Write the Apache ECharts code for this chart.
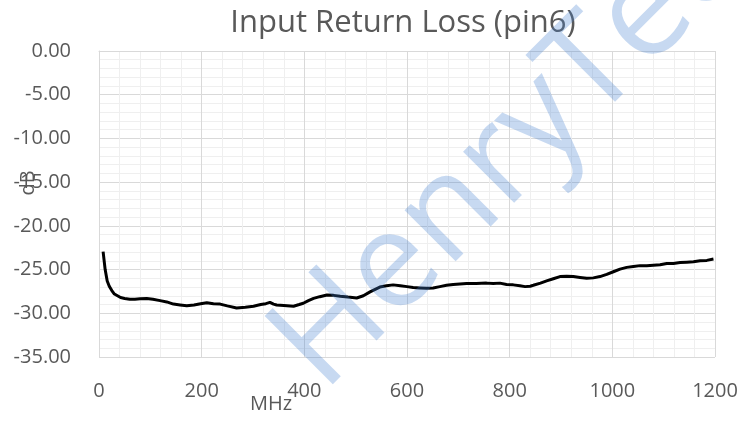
<!DOCTYPE html>
<html>
<head>
<meta charset="utf-8">
<style>
  html, body { margin: 0; padding: 0; background: #fff; }
  #chart { width: 739px; height: 421px; }
</style>
<script src="https://cdn.jsdelivr.net/npm/echarts@6/dist/echarts.min.js"></script>
</head>
<body>
<div id="chart"></div>
<script>
// 频率 (MHz)
const freqMHz = [8, 12, 16, 20, 25, 30, 36, 42, 50, 60, 70, 80, 93, 105, 119, 132, 145, 158, 171, 185,
  198, 210, 223, 236, 250, 268, 285, 301, 315, 325, 333, 340, 346, 360, 379, 390, 398, 408, 418, 430,
  444, 457, 470, 485, 502, 515, 528, 540, 547, 560, 573, 587, 600, 612, 625, 638, 651, 664, 677, 690,
  703, 716, 735, 755, 768, 781, 794, 807, 820, 830, 840, 846, 860, 872, 885, 898, 911, 924, 937, 950,
  963, 976, 989, 1002, 1015, 1028, 1041, 1054, 1067, 1080, 1093, 1106, 1119, 1132, 1145, 1158, 1171, 1184, 1197];
// 回波损耗 (dB)
const returnLoss = [-22.95, -25.0, -26.3, -26.9, -27.4, -27.8, -28.0, -28.2, -28.3, -28.4, -28.4, -28.35, -28.3, -28.4, -28.55, -28.7, -28.95, -29.05, -29.15, -29.05,
  -28.9, -28.8, -28.9, -28.95, -29.15, -29.4, -29.3, -29.2, -29.0, -28.9, -28.75, -28.95, -29.05, -29.1, -29.2, -29.0, -28.85, -28.55, -28.3, -28.1,
  -27.9, -27.95, -28.05, -28.15, -28.25, -28.0, -27.55, -27.2, -27.0, -26.85, -26.75, -26.85, -26.95, -27.05, -27.1, -27.15, -27.1, -26.95, -26.8, -26.7,
  -26.65, -26.6, -26.6, -26.55, -26.6, -26.55, -26.7, -26.75, -26.85, -26.95, -26.9, -26.8, -26.55, -26.3, -26.05, -25.8, -25.75, -25.8, -25.9, -26.0,
  -25.95, -25.8, -25.55, -25.25, -24.95, -24.75, -24.65, -24.55, -24.55, -24.5, -24.45, -24.3, -24.3, -24.2, -24.15, -24.1, -24.0, -23.95, -23.8];

const chartTitle = 'Input Return Loss (pin6)';
const xName = 'MHz';
const yName = 'dB';
const watermark = 'HenryTech';

const textColor = '#595959';
const fontFamily = '"Open Sans", Lato, sans-serif';

const chart = echarts.init(document.getElementById('chart'));

const option = {
  animation: false,
  title: {
    text: chartTitle,
    left: 398,
    top: 3,
    textAlign: 'center',
    textStyle: { color: textColor, fontSize: 31, fontWeight: 'normal', fontFamily },
  },
  grid: { left: 99, right: 24, top: 51, bottom: 64, outerBoundsMode: 'none' },
  xAxis: {
    type: 'value',
    min: 0,
    max: 1200,
    interval: 200,
    axisLine: { show: true, lineStyle: { color: '#d9d9d9', width: 1 } },
    axisTick: { show: false },
    axisLabel: { color: textColor, fontSize: 20, fontFamily, margin: 24, formatter: (v) => String(v) },
    splitLine: { show: true, lineStyle: { color: '#d9d9d9', width: 1 } },
    minorTick: { show: false, splitNumber: 5 },
    minorSplitLine: { show: true, lineStyle: { color: '#efefef', width: 1 } },
  },
  yAxis: {
    type: 'value',
    min: -35,
    max: 0,
    interval: 5,
    axisLine: { show: true, onZero: false, lineStyle: { color: '#d9d9d9', width: 1 } },
    axisTick: { show: false },
    axisLabel: {
      color: textColor,
      fontSize: 20,
      fontFamily,
      margin: 28,
      formatter: (v) => v.toFixed(2),
    },
    splitLine: { show: true, lineStyle: { color: '#d9d9d9', width: 1 } },
    minorTick: { show: false, splitNumber: 5 },
    minorSplitLine: { show: true, lineStyle: { color: '#efefef', width: 1 } },
  },
  graphic: [
    {
      type: 'text',
      left: 250,
      top: 394,
      z: 10,
      style: { text: xName, fill: textColor, fontSize: 20, fontFamily },
    },
    {
      type: 'text',
      x: 28,
      y: 183,
      rotation: Math.PI / 2,
      z: 10,
      style: { text: yName, fill: textColor, fontSize: 20, fontFamily, align: 'center', verticalAlign: 'middle' },
    },
    {
      // 水印，盖在曲线上面
      type: 'text',
      x: 344,
      y: 414,
      rotation: Math.PI / 4,
      z: 100,
      style: {
        text: watermark,
        fill: 'rgba(68,130,210,0.3)',
        fontSize: 135,
        fontFamily,
        align: 'left',
        verticalAlign: 'bottom',
      },
    },
  ],
  series: [
    {
      type: 'line',
      data: freqMHz.map((f, i) => [f, returnLoss[i]]),
      showSymbol: false,
      smooth: false,
      z: 20,
      lineStyle: { color: '#000', width: 3 },
    },
  ],
};

chart.setOption(option);
</script>
</body>
</html>
